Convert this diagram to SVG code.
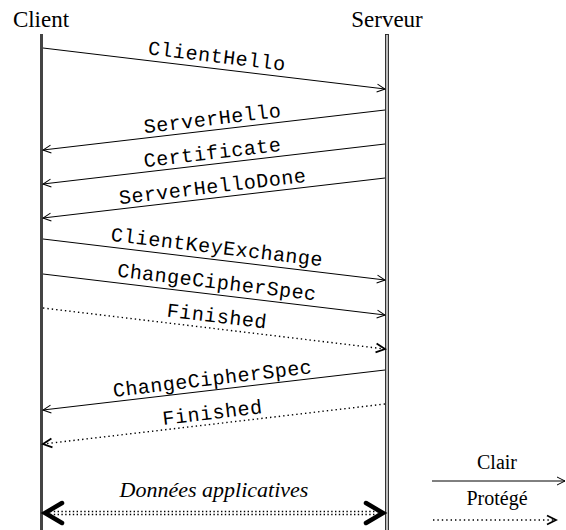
<svg xmlns="http://www.w3.org/2000/svg" width="566" height="530" viewBox="0 0 566 530">
<style>
.lbl{font-family:"Liberation Mono","DejaVu Sans Mono",monospace;font-size:20px;fill:#000;text-anchor:middle}
.ser{font-family:"Liberation Serif","Times New Roman",serif;font-size:23px;fill:#000;text-anchor:middle}
.it{font-family:"Liberation Serif","Times New Roman",serif;font-style:italic;font-size:22px;fill:#000;text-anchor:middle}
.msg{stroke:#000;stroke-width:1;fill:none}
.dot{stroke:#000;stroke-width:1.4;fill:none;stroke-dasharray:1.4 3}
</style>
<defs>
<marker id="ah" viewBox="-10 -6 12 12" markerWidth="12" markerHeight="12" refX="0" refY="0" markerUnits="userSpaceOnUse" orient="auto">
<path d="M-8,-4 L0,0 L-8,4" fill="none" stroke="#000" stroke-width="1"/>
</marker>
<marker id="ahd" viewBox="-12 -7 14 14" markerWidth="14" markerHeight="14" refX="0" refY="0" markerUnits="userSpaceOnUse" orient="auto">
<path d="M-9,-4.5 L0,0 L-9,4.5" fill="none" stroke="#000" stroke-width="1.8"/>
</marker>
</defs>
<g id="client">
<text class="ser" x="41" y="27">Client</text>
<rect x="40" y="34" width="3" height="500" fill="#444"/>
</g>
<g id="serveur">
<text class="ser" x="387" y="27">Serveur</text>
<rect x="385.5" y="34.5" width="3" height="500" fill="#bbb" stroke="#222" stroke-width="0.9"/>
</g>
<g id="connectors">
<line class="msg" x1="43" y1="48" x2="385" y2="89" marker-end="url(#ah)"/>
<text class="lbl" transform="translate(216,62.5) rotate(6.84)" textLength="138" lengthAdjust="spacing">ClientHello</text>
<line class="msg" x1="385" y1="110" x2="43" y2="150" marker-end="url(#ah)"/>
<text class="lbl" transform="translate(213,125) rotate(-6.84)" textLength="138" lengthAdjust="spacing">ServerHello</text>
<line class="msg" x1="385" y1="144" x2="43" y2="184" marker-end="url(#ah)"/>
<text class="lbl" transform="translate(213,159) rotate(-6.84)" textLength="138" lengthAdjust="spacing">Certificate</text>
<line class="msg" x1="385" y1="178" x2="43" y2="218" marker-end="url(#ah)"/>
<text class="lbl" transform="translate(213,193) rotate(-6.84)" textLength="188" lengthAdjust="spacing">ServerHelloDone</text>
<line class="msg" x1="43" y1="239" x2="385" y2="280" marker-end="url(#ah)"/>
<text class="lbl" transform="translate(216,253.5) rotate(6.84)" textLength="213" lengthAdjust="spacing">ClientKeyExchange</text>
<line class="msg" x1="43" y1="274" x2="385" y2="315" marker-end="url(#ah)"/>
<text class="lbl" transform="translate(216,288.5) rotate(6.84)" textLength="200" lengthAdjust="spacing">ChangeCipherSpec</text>
<line class="dot" x1="43" y1="308" x2="385" y2="349" marker-end="url(#ahd)"/>
<text class="lbl" transform="translate(216,322.5) rotate(6.84)" textLength="100" lengthAdjust="spacing">Finished</text>
<line class="msg" x1="385" y1="370" x2="43" y2="410" marker-end="url(#ah)"/>
<text class="lbl" transform="translate(213,385) rotate(-6.84)" textLength="200" lengthAdjust="spacing">ChangeCipherSpec</text>
<line class="dot" x1="385" y1="404" x2="43" y2="444" marker-end="url(#ahd)"/>
<text class="lbl" transform="translate(213,419) rotate(-6.84)" textLength="100" lengthAdjust="spacing">Finished</text>
</g>
<g id="donnees">
<text class="it" x="214" y="497">Données applicatives</text>
<line x1="50" y1="511.5" x2="378" y2="511.5" stroke="#000" stroke-width="1.3" stroke-dasharray="1.4 2.4"/>
<line x1="50" y1="514.5" x2="378" y2="514.5" stroke="#000" stroke-width="1.3" stroke-dasharray="1.4 2.4"/>
<polyline points="62,503 45,513 62,523" fill="none" stroke="#000" stroke-width="4.5" stroke-linecap="round" stroke-linejoin="miter"/>
<polyline points="366,503 383,513 366,523" fill="none" stroke="#000" stroke-width="4.5" stroke-linecap="round" stroke-linejoin="miter"/>
</g>
<g id="legend">
<text class="ser" x="497" y="469" style="font-size:20px">Clair</text>
<line class="msg" x1="432" y1="481" x2="565" y2="481" marker-end="url(#ah)"/>
<text class="ser" x="497" y="505" style="font-size:20px">Protégé</text>
<line class="dot" x1="433" y1="520" x2="556" y2="520" marker-end="url(#ahd)"/>
</g>
</svg>
